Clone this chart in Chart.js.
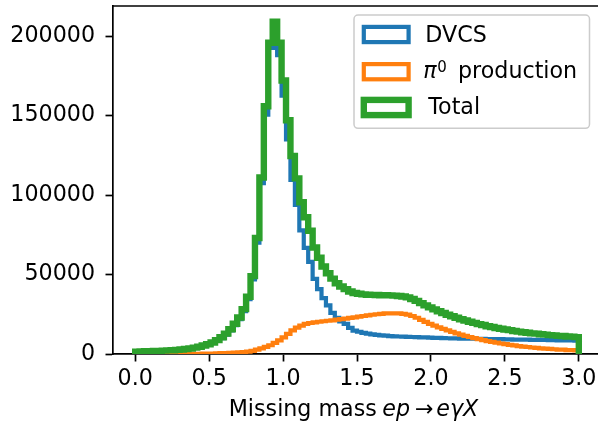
<!DOCTYPE html>
<html>
<head>
<meta charset="utf-8">
<script src="https://cdn.jsdelivr.net/npm/chart.js@4.4.1/dist/chart.umd.min.js"></script>
<style>
  html, body { margin: 0; padding: 0; background: #fff; overflow: hidden; }
  #wrap { width: 598px; height: 426px; overflow: hidden; }
  canvas { display: block; }
</style>
</head>
<body>
<div id="wrap"><canvas id="grafica" width="610" height="426"></canvas></div>
<script>
// histogram: 100 bins from 0 to 3
const binStart = 0;
const binWidth = 0.03;

const dvcs = [
  1500, 1600, 1700, 1750, 1850, 1950, 2100, 2250, 2400, 2600,
  2800, 3100, 3450, 3900, 4450, 5100, 5900, 6950, 8300, 10000,
  12200, 14900, 18200, 22000, 27000, 34500, 47000, 70000, 107500, 150500,
  193500, 192500, 188000, 162500, 135000, 109500, 93800, 77800, 66800, 58000,
  47300, 40800, 35200, 30600, 25900, 22700, 20500, 18900, 16400, 14700,
  14000, 13300, 12800, 12400, 12000, 11700, 11500, 11300, 11100, 11000,
  10900, 10800, 10700, 10600, 10500, 10400, 10300, 10200, 10100, 10000,
  9900, 9800, 9800, 9700, 9700, 9600, 9600, 9500, 9500, 9400,
  9400, 9300, 9300, 9200, 9200, 9100, 9100, 9000, 9000, 8900,
  8900, 8800, 8800, 8700, 8700, 8600, 8600, 8500, 8500, 8400
];
const pi0 = [
  0, 0, 0, 0, 0, 0, 0, 0, 0, 0,
  0, 0, 50, 100, 150, 200, 250, 300, 400, 500,
  600, 700, 850, 1000, 1200, 1500, 2000, 2700, 3500, 4500,
  5500, 7000, 8600, 10500, 12600, 14800, 16600, 17900, 18900, 19500,
  19900, 20300, 20600, 20900, 21200, 21600, 22000, 22300, 22700, 23100,
  23500, 23900, 24300, 24700, 25000, 25300, 25500, 25600, 25600, 25500,
  25300, 24800, 23900, 22800, 21500, 20200, 19000, 17900, 16800, 15800,
  14800, 13900, 13000, 12200, 11400, 10700, 10000, 9300, 8700, 8100,
  7600, 7100, 6600, 6200, 5800, 5400, 5000, 4700, 4400, 4100,
  3900, 3600, 3400, 3200, 3000, 2800, 2700, 2500, 2400, 2200
];
const total = [
  1500, 1600, 1700, 1750, 1850, 1950, 2100, 2250, 2400, 2600,
  2800, 3100, 3500, 4000, 4600, 5300, 6150, 7250, 8700, 10500,
  12800, 15600, 19000, 23000, 28200, 36000, 49000, 73000, 111000, 155800,
  195800, 209000, 195800, 172000, 147000, 124500, 110500, 95500, 86000, 77500,
  67000, 60500, 55000, 50800, 47400, 44500, 42500, 40800, 39300, 38400,
  37900, 37500, 37300, 37200, 37100, 37000, 37000, 36900, 36700, 36500,
  36200, 35600, 34600, 33400, 32000, 30600, 29300, 28100, 26900, 25800,
  24700, 23700, 22800, 21900, 21100, 20300, 19600, 18800, 18200, 17500,
  17000, 16400, 15900, 15400, 15000, 14500, 14100, 13700, 13400, 13000,
  12800, 12400, 12200, 11900, 11700, 11400, 11300, 11000, 10900, 10600
];

const xTicks = [0, 0.5, 1, 1.5, 2, 2.5, 3];
const yTicks = [0, 50000, 100000, 150000, 200000];

const FONT = 'DejaVu Sans';
const FS = 22.2;
const BLUE = '#1f77b4';
const ORANGE = '#ff7f0e';
const GREEN = '#2ca02c';

// bin counts -> outline points of a step histogram
const toSteps = (counts) => {
  const pts = [{ x: binStart, y: 0 }];
  counts.forEach((c, i) => pts.push({ x: binStart + i * binWidth, y: c }));
  const end = binStart + counts.length * binWidth;
  pts.push({ x: end, y: counts[counts.length - 1] });
  pts.push({ x: end, y: 0 });
  return pts;
};

// ink-left aligned text
const inkText = (ctx, txt, left, baseline) => {
  const m = ctx.measureText(txt);
  ctx.fillText(txt, left + m.actualBoundingBoxLeft, baseline);
};

const extras = {
  id: 'extras',
  afterDraw(chart) {
    const ctx = chart.ctx;
    const a = chart.chartArea;
    ctx.save();
    // top spine
    ctx.strokeStyle = '#000';
    ctx.lineWidth = 1.7;
    ctx.beginPath();
    ctx.moveTo(a.left, a.top);
    ctx.lineTo(a.right, a.top);
    ctx.stroke();

    // legend box
    const bx = 354, by = 15, bw = 235.5, bh = 113.3, r = 4;
    ctx.beginPath();
    ctx.moveTo(bx + r, by);
    ctx.arcTo(bx + bw, by, bx + bw, by + bh, r);
    ctx.arcTo(bx + bw, by + bh, bx, by + bh, r);
    ctx.arcTo(bx, by + bh, bx, by, r);
    ctx.arcTo(bx, by, bx + bw, by, r);
    ctx.closePath();
    ctx.fillStyle = 'rgba(255,255,255,0.8)';
    ctx.fill();
    ctx.strokeStyle = '#cccccc';
    ctx.lineWidth = 1.5;
    ctx.stroke();

    const rows = [
      { color: BLUE, lw: 4.2, cy: 34.5, base: 42.3 },
      { color: ORANGE, lw: 4.2, cy: 71.7, base: 78.3 },
      { color: GREEN, lw: 6.4, cy: 107.5, base: 114.3 }
    ];
    rows.forEach(row => {
      ctx.strokeStyle = row.color;
      ctx.lineWidth = row.lw;
      ctx.lineJoin = 'miter';
      ctx.strokeRect(363.8, row.cy - 7.6, 44.8, 15.2);
    });
    ctx.fillStyle = '#000';
    ctx.textAlign = 'left';
    ctx.textBaseline = 'alphabetic';
    ctx.font = `${FS}px "${FONT}"`;
    inkText(ctx, 'DVCS', 427.3, rows[0].base);
    inkText(ctx, 'Total', 427.3, rows[2].base);
    ctx.font = `italic ${FS}px "${FONT}"`;
    inkText(ctx, 'π', 424.3, rows[1].base);
    ctx.font = `15px "${FONT}"`;
    inkText(ctx, '0', 437.3, 71.7);
    ctx.font = `${FS}px "${FONT}"`;
    inkText(ctx, 'production', 460, rows[1].base);

    // x axis title
    ctx.font = `${FS}px "${FONT}"`;
    inkText(ctx, 'Missing mass', 230.7, 416);
    ctx.font = `italic ${FS}px "${FONT}"`;
    inkText(ctx, 'ep', 383.3, 416);
    ctx.font = `${FS}px "${FONT}"`;
    inkText(ctx, '→', 416, 416);
    ctx.font = `italic ${FS}px "${FONT}"`;
    inkText(ctx, 'eγX', 437.3, 416);
    ctx.restore();
  }
};

const ctx = document.getElementById('grafica').getContext('2d');
new Chart(ctx, {
  type: 'line',
  data: {
    datasets: [
      { label: 'Total', data: toSteps(total), borderColor: GREEN, borderWidth: 6.4 },
      { label: 'π0 production', data: toSteps(pi0), borderColor: ORANGE, borderWidth: 4.2 },
      { label: 'DVCS', data: toSteps(dvcs), borderColor: BLUE, borderWidth: 4.2 }
    ].map(d => ({ ...d, stepped: true, pointRadius: 0, fill: false, tension: 0, clip: 0 }))
  },
  options: {
    responsive: false,
    animation: false,
    devicePixelRatio: 1,
    layout: { padding: { top: 6, right: 9, left: 0, bottom: 0 } },
    plugins: {
      legend: { display: false },
      tooltip: { enabled: false }
    },
    scales: {
      x: {
        type: 'linear',
        min: -0.15,
        max: 3.15,
        afterBuildTicks: s => { s.ticks = xTicks.map(v => ({ value: v })); },
        afterFit: s => { s.height = 72; s.paddingLeft = 0; s.paddingRight = 0; },
        ticks: {
          callback: v => Number(v).toFixed(1),
          font: { family: FONT, size: FS },
          color: '#000',
          padding: 4,
          maxRotation: 0,
          autoSkip: false
        },
        grid: { drawOnChartArea: false, drawTicks: true, tickLength: 7.5, tickWidth: 1.7, tickColor: '#000' },
        border: { display: true, color: '#000', width: 1.7 }
      },
      y: {
        min: 0,
        max: 218900,
        afterBuildTicks: s => { s.ticks = yTicks.map(v => ({ value: v })); },
        afterFit: s => { s.width = 113; s.paddingTop = 0; s.paddingBottom = 0; },
        ticks: {
          callback: v => String(v),
          font: { family: FONT, size: FS },
          color: '#000',
          padding: 10.5,
          autoSkip: false
        },
        grid: { drawOnChartArea: false, drawTicks: true, tickLength: 7.5, tickWidth: 1.7, tickColor: '#000' },
        border: { display: true, color: '#000', width: 1.7 }
      }
    }
  },
  plugins: [extras]
});
</script>
</body>
</html>
